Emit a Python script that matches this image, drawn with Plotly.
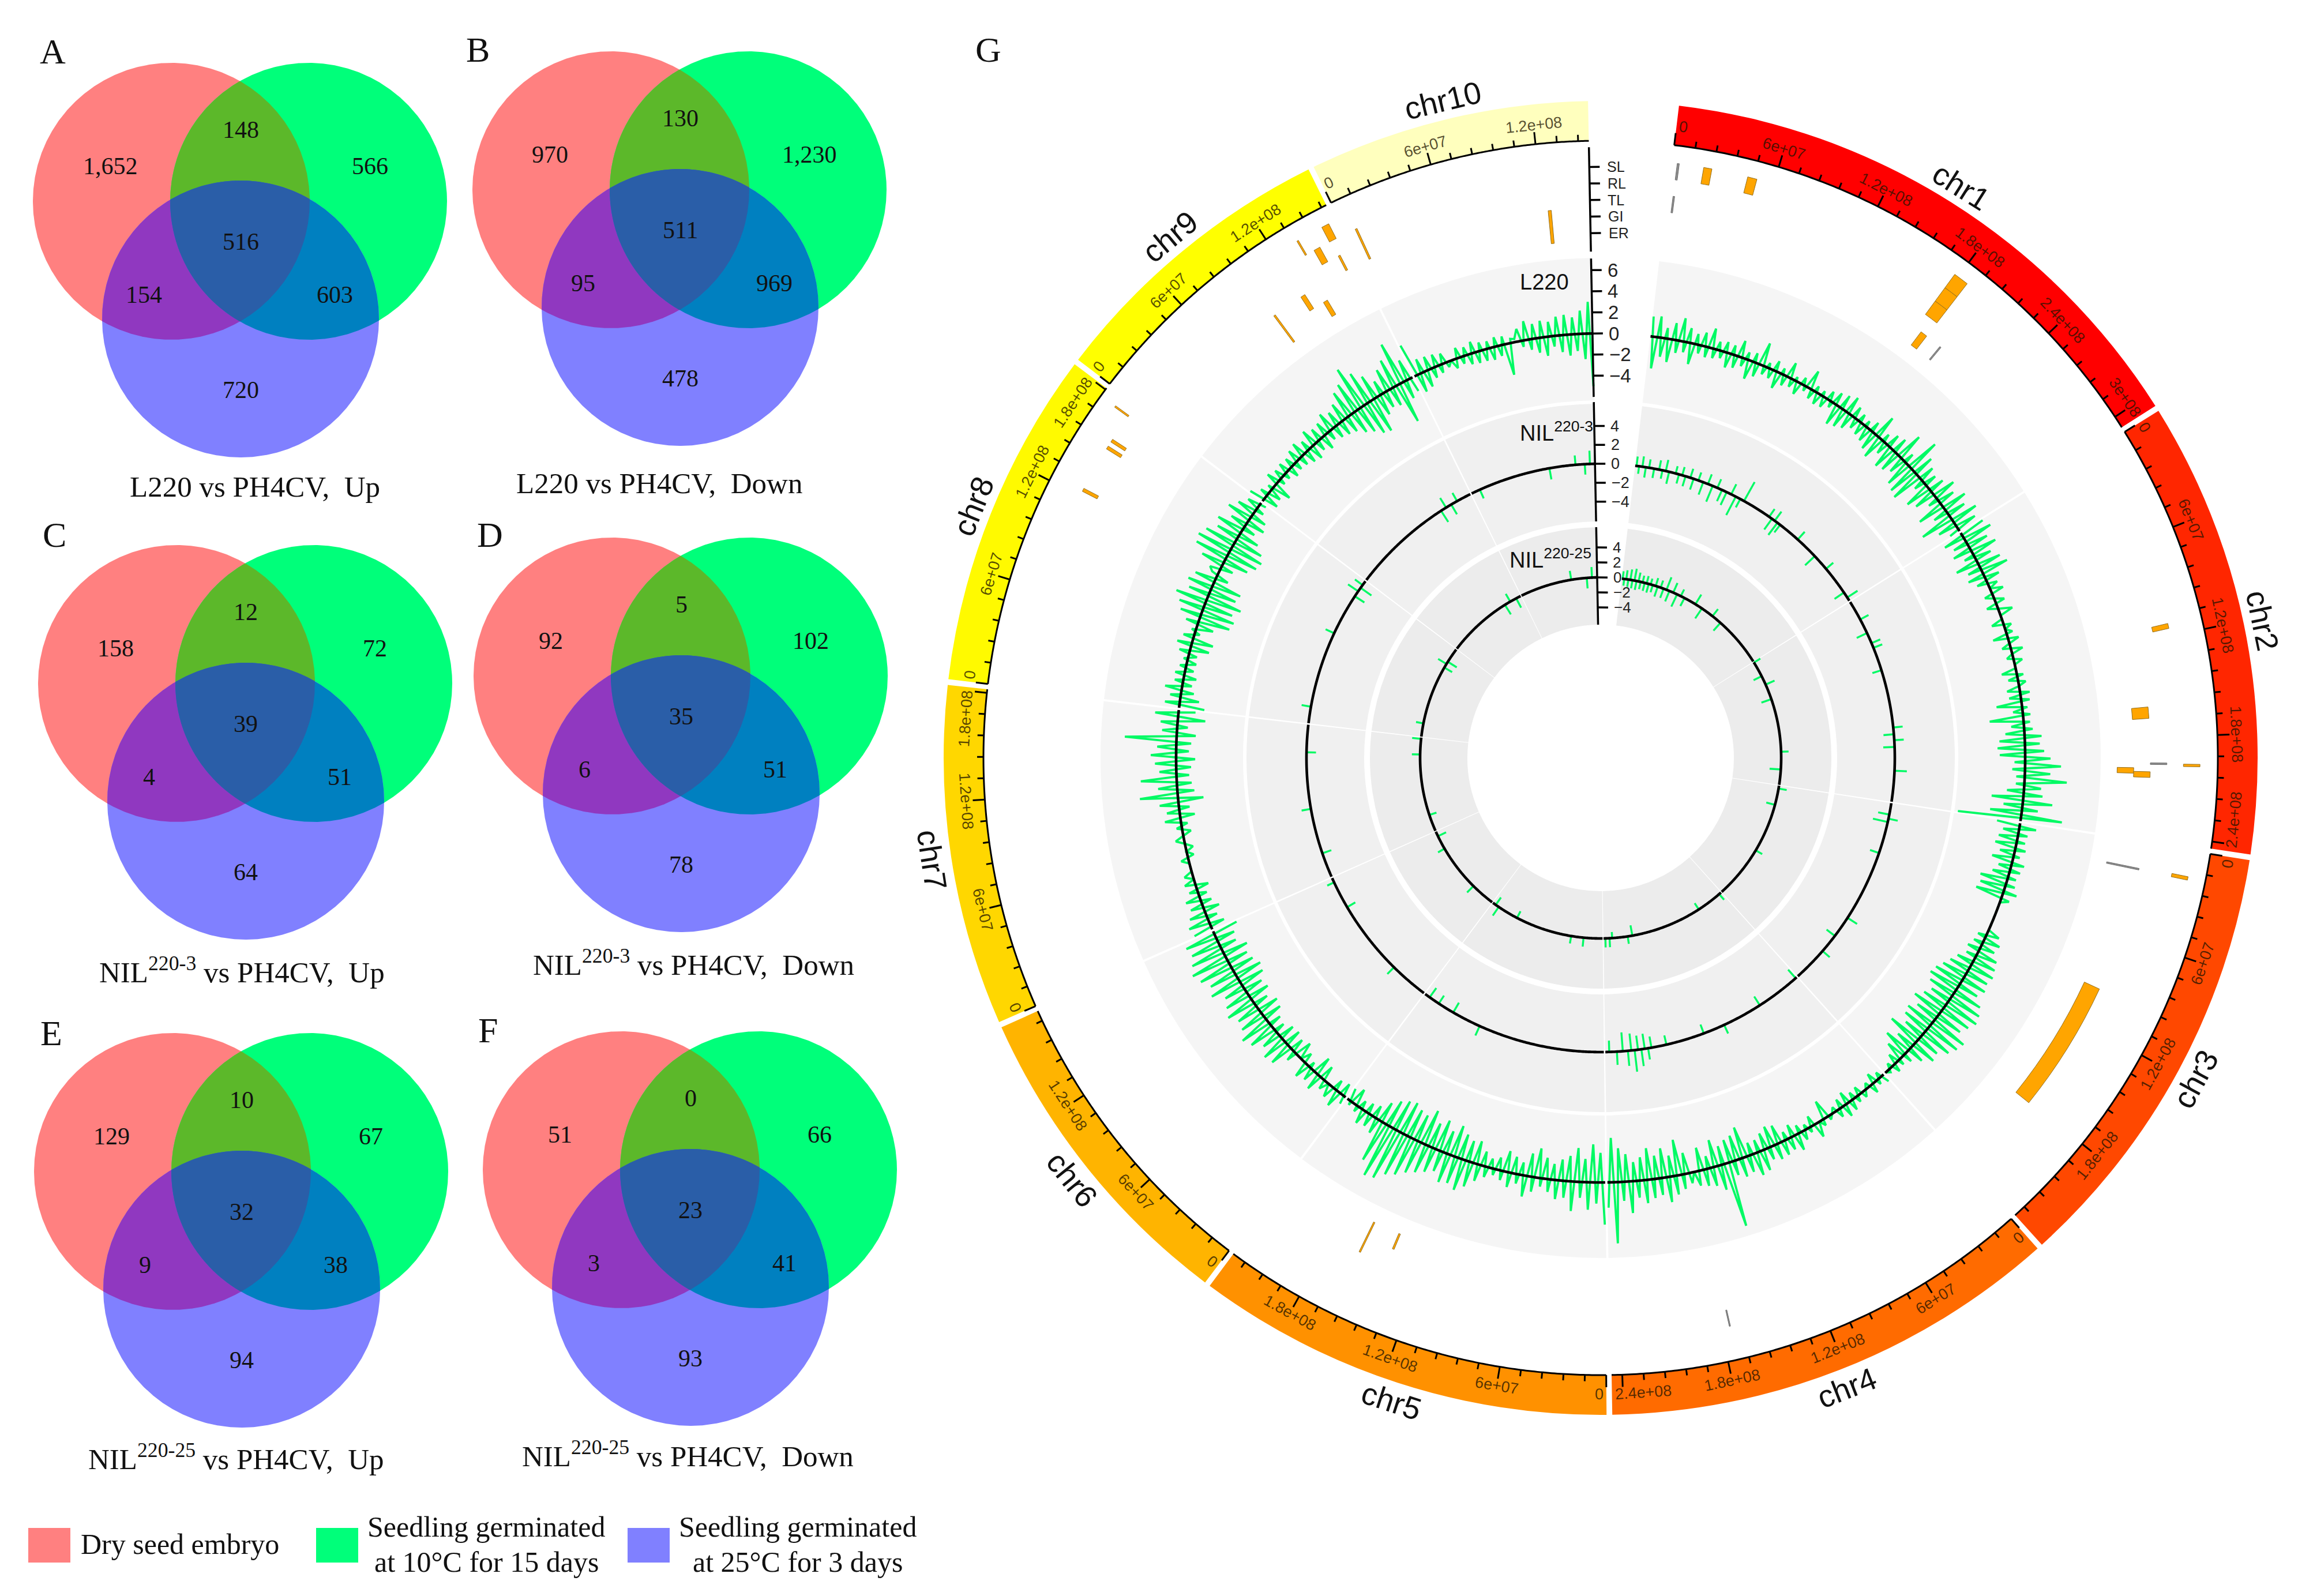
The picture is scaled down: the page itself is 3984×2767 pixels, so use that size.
import math
import numpy as np
import plotly.graph_objects as go

W, H = 3984, 2767
SERIF = "Liberation Serif"
SANS = "Liberation Sans"

# ---------- Venn data: only-R, R&G, only-G, all, R&B, G&B, only-B ----------
venn_a = [1652, 148, 566, 516, 154, 603, 720]
venn_b = [970, 130, 1230, 511, 95, 969, 478]
venn_c = [158, 12, 72, 39, 4, 51, 64]
venn_d = [92, 5, 102, 35, 6, 51, 78]
venn_e = [129, 10, 67, 32, 9, 38, 94]
venn_f = [51, 0, 66, 23, 3, 41, 93]
venn_titles = [
    "L220 vs PH4CV,\u00a0\u00a0Up", "L220 vs PH4CV,\u00a0\u00a0Down",
    "NIL<sup>220-3</sup> vs PH4CV,\u00a0\u00a0Up", "NIL<sup>220-3</sup> vs PH4CV,\u00a0\u00a0Down",
    "NIL<sup>220-25</sup> vs PH4CV,\u00a0\u00a0Up", "NIL<sup>220-25</sup> vs PH4CV,\u00a0\u00a0Down",
]
panel_letters = ["A", "B", "C", "D", "E", "F"]

# ---------- Circos data ----------
chrom_names = ["chr1", "chr2", "chr3", "chr4", "chr5", "chr6", "chr7", "chr8", "chr9", "chr10"]
chrom_length_mb = [307, 244, 235, 246, 224, 174, 182, 181, 159, 150]
chrom_colors = ["#FF0000", "#FF2600", "#FF4800", "#FF6B00", "#FF9100", "#FFB400",
                "#FFD700", "#FFFA00", "#FFFF00", "#FFFFBE"]
qtl_rows = ["ER", "GI", "TL", "RL", "SL"]

qtl_chrom = [10, 9, 10, 9, 9, 9, 9, 9, 9, 8, 8, 8, 8, 1, 1, 1, 1, 1, 1, 1, 1, 1,
             2, 2, 2, 2, 2, 2, 3, 3, 3, 5, 5, 4]
qtl_start = [123.5, 151, 6, 134.5, 140.5, 151.7, 118.8, 129.2, 98, 175, 152, 156.9, 123, 3, 3, 18.5, 44.5,
             177.6, 177.6, 177.6, 182, 197.5, 112.2, 160.7, 199.2, 201.6, 196, 196.6, 16, 15, 96.2, 159.8, 141, 174.3]
qtl_end = [125.5, 155.5, 7.2, 135.5, 144.5, 153, 121.8, 132.2, 99.2, 176, 154, 158.8, 125, 4.2, 4, 23.3, 50,
           186.6, 186.6, 186.6, 186.6, 198.5, 115.2, 167.9, 202.8, 205.2, 197, 198, 17, 17, 180.8, 160.8, 142.2, 175]
qtl_row_low = [0, 4, 2, 4, 3, 2, 1, 0, 0, 4, 3, 3, 3, 4, 2, 4, 4, 2, 3, 4, 0, 0, 3, 1, 0, 1, 2, 4, 0, 4, 1, 0, 0, 3]
qtl_row_high = [1, 4, 3, 4, 3, 2, 1, 0, 1, 4, 3, 3, 3, 4, 2, 4, 4, 2, 3, 4, 0, 0, 3, 1, 0, 1, 2, 4, 1, 4, 1, 1, 0, 3]
qtl_is_gray = [0, 0, 0, 0, 0, 0, 0, 0, 0, 0, 0, 0, 0, 1, 1, 0, 0, 0, 0, 0, 0, 1, 0, 0, 0, 0, 1, 0, 1, 0, 0, 0, 0, 1]

l220_chr1 = [1.9,-3.0,2.0,-1.8,1.0,-2.2,1.6,-1.2,2.2,-1.0,1.4,-2.0,1.0,-0.8,1.3,-1.0,1.9,-0.9,0.8,-0.7,1.0,-1.4,0.9,-1.2,1.6,-0.8,0.7,-1.8,0.9,-1.3,2.2,-0.8,0.5,-0.9,1.0,-1.6,0.6,-1.0,1.5,-0.8,0.4,-1.2,0.7,-0.5,1.8,-0.9,0.6,-1.1,0.5,-1.0,0.9,-0.6,1.2,-2.0,1.4,-1.8,1.7,-1.5,1.1,-1.0,0.8,-1.2,0.6,-1.4,1.0,-1.8,2.2,-2.2,0.8,-1.2,1.3,-2.2,1.5,-2.0,2.6,-1.6,1.0,-2.5,3.2,-2.8,2.0,-3.0,1.5,-1.0,1.2,-2.5,1.5,-2.0,2.2,-1.0,1.6,-2.6,2.4,-1.4,1.8,-3.2,2.6,-1.8,2.0,-1.0]
l220_chr2 = [2.4,-2.0,2.8,-1.4,2.0,-1.8,2.5,-1.0,1.6,-2.2,2.2,-1.3,2.6,-1.6,1.4,-1.0,0.9,0,1.2,-0.8,0,0.9,-1.0,0,1.3,0,0,-1.1,0.7,0,0.6,-1.4,1.0,0,-0.8,1.1,0,-0.6,0.8,0,0,-1.4,0.6,-0.9,0.7,0,-1.2,0.9,-1.1,0.8,-2.4,0.5,-0.9,0.7,-3.2,0.6,-1.2,0.8,-1.8,1.6,-2.4,1.4,-2.6,1.8,-2.4,2.4,-1.0,3.4,-1.2,2.4,-0.8,4.0,-0.8,1.6,-1.6,1.8,-3.0,2.8,-1.8,1.5,-3.0,3.9,-6.0]
l220_chr3 = [-2.2,1.6,-1.5,0.9,-1.8,0.8,-2.0,1.0,-1.4,0.6,-2.0,1.2,-1.2,1.0,-1.6,0.8,-2.6,0.9,-2.4,1.3,-2.6,0.8,0,0,0,0,0,0,0,0,0,1.2,-0.8,1.6,-0.9,1.4,-1.2,2.0,-1.0,2.2,-1.6,2.4,-2.0,2.2,-2.4,2.4,-2.8,2.0,-3.0,2.8,-2.6,3.2,-2.0,3.4,-2.4,3.0,-3.0,2.6,-2.2,3.6,-2.8,3.4,-2.6,3.0,-2.0,2.2,-3.2,2.4,-1.8,1.6,-2.6,0.9,-1.8,0.6,-1.0,0.8,-0.5,0.3,0]
l220_chr4 = [0.8,-0.6,0.5,-1.0,0.9,-0.5,0,0.6,-0.8,0.6,-0.7,1.0,-1.2,1.2,-0.9,0.8,-0.5,0,0.4,-1.8,0.6,0,1.4,-1.0,0.5,-0.5,0.9,-0.8,1.6,-1.2,1.2,-0.8,1.4,-1.8,1.5,-2.0,1.2,-1.6,2.0,-1.2,2.2,-1.2,1.6,-3.0,1.8,-2.4,1.4,-2.2,6.2,-1.8,2.4,-2.6,1.8,-1.2,1.6,-2.2,1.4,0,1.0,-2.0,1.4,-3.4,1.8,-2.0,2.4,-2.8,1.6,-2.2,1.8,-3.0,2.2,-2.2,1.6,-1.8,3.0,-2.6,1.8,-3.2,5.8,-4.2,2.4]
l220_chr5 = [4.0,-2.8,2.0,-3.6,2.6,-2.2,1.5,-3.2,2.8,-2.4,1.6,-2.0,1.8,-1.5,1.2,-2.0,0.8,-2.8,1.4,-2.2,2.0,-1.2,0.9,-1.6,1.4,-2.0,0.9,-1.2,0.6,-0.9,1.0,-1.4,1.6,-2.2,2.4,-2.0,3.0,-2.4,2.6,-3.0,2.8,-2.2,2.0,-3.0,2.4,-2.4,2.8,-3.4,3.2,-2.6,3.8,-2.8,4.2,-3.2,5.0,-3.0,5.2,-2.6,4.0,-2.0,1.5,-1.2,1.2,-1.0,1.4,-0.8,0.6,-1.6,0.4,-1.2]
l220_chr6 = [0.8,-1.2,1.6,-1.0,1.2,0,0.9,-1.4,1.6,-1.8,1.2,-0.6,1.5,-1.0,0,-1.6,1.0,-1.3,2.2,-1.6,2.4,-1.5,1.8,-1.0,2.6,-1.2,3.0,-1.8,2.4,-2.0,2.2,-1.4,2.8,-2.0,2.4,-1.8,2.0,-2.4,3.0,-2.6,2.6,-2.2,3.2,-2.0,3.6,-2.4,3.2,-1.6,2.8,-1.8,3.0,-2.4]
l220_chr7 = [1.8,-1.4,2.0,-1.0,1.6,-1.5,1.2,-1.0,1.4,-0.8,0.8,-1.2,1.0,0,0.8,0,0,0,0.7,-0.6,0,-0.7,0,0.8,0,-0.8,0.5,-0.6,1.5,-1.4,1.2,-1.0,1.8,-2.4,3.6,-1.6,1.8,-1.4,3.4,-1.2,1.6,-1.4,2.0,-1.8,2.4,-1.2,1.8,-1.4,4.9,-1.8,1.4,-1.0,1.6,-2.6,2.2,-1.6]
l220_chr8 = [-2.4,1.4,-1.8,1.0,-1.2,1.6,-0.9,0.8,-1.2,0.9,-0.8,0.6,-0.9,0.4,-0.8,1.0,-1.8,1.4,-2.0,1.0,-0.5,0.4,-1.6,1.2,-3.0,2.0,-3.2,2.4,-2.8,3.0,-3.4,2.0,-2.6,2.4,-2.8,2.0,-1.2,0.6,1.0,-1.2,2.2,-2.4,3.2,-3.0,3.4,-3.2,3.0,-2.8,2.2,-2.0,2.6,-1.2,1.6,-1.8,2.4,-1.5,1.8,-0.8,1.2,-0.6]
l220_chr9 = [1.5,-1.4,0.8,-1.2,0.5,-1.8,1.2,-0.6,0.9,-0.6,1.0,-1.0,0.9,-0.8,1.2,-0.9,1.4,-1.2,1.0,-1.4,1.6,-1.0,1.2,-1.4,1.3,-0.9,1.8,-1.2,1.4,-1.4,1.8,-1.6,2.6,-2.2,3.0,-2.6,4.2,-3.2,3.2,-3.4,2.4,-2.0,1.4,-1.6,2.2,-1.8,2.8,-3.9,4.1,-1.8,2.0,-1.4]
l220_chr10 = [3.2,-1.8,1.4,-1.6,1.3,-1.0,1.2,-0.8,1.0,-0.5,0,-0.9,1.0,-0.7,0.8,-1.0,1.1,-1.1,0.8,-1.1,0.7,-1.2,0.9,-1.0,0.8,-3.0,0.4,0.3,1.2,-0.6,1.8,-1.0,1.4,-1.4,1.6,-1.8,1.4,-1.0,1.8,-1.6,1.9,-2.0,1.6,-1.6,2.2,-2.4,3.0,-5.0]
l220_values = [l220_chr1, l220_chr2, l220_chr3, l220_chr4, l220_chr5, l220_chr6, l220_chr7, l220_chr8, l220_chr9, l220_chr10]

nil3_chrom = [1]*37 + [2]*10 + [3]*7 + [4]*16 + [5]*4 + [6]*3 + [7]*3 + [8]*6 + [9]*4 + [10]*5
nil3_mb = [1,4,8,12,16,22,28,32,36,40,48,52,56,60,66,70,76,82,88,94,100,106,112,118,124,130,135,170,174,178,182,186,213,241,261,296,303,
           23,41,54,88,157,165,172,180,208,60,
           13,18,22,145,171,194,60,
           1,54,102,128,174,192,196,200,204,208,212,216,220,226,233,242,
           150,185,205,218,
           46,136,169,
           29,83,150,
           19,110,160,167,172,176,
           120,127,134,142,
           10,96,127,138,144]
nil3_value = [1.0,-0.8,1.1,-1.1,0.9,-1.0,1.0,-0.9,1.2,-1.3,0.8,-1.0,0.9,-1.1,1.0,-1.2,0.9,-1.4,1.1,-1.8,1.0,-1.3,-1.5,1.2,-2.2,-1.0,2.3,1.0,-1.4,1.2,-1.6,-1.0,1.1,-1.4,1.0,-1.2,1.3,
              1.0,-1.2,1.0,-1.0,1.0,-1.1,1.0,-1.2,1.3,1.0,
              -1.2,1.0,-1.6,1.2,-1.1,1.0,-1.0,
              -1.2,-1.1,1.0,-1.0,-1.0,-1.2,1.2,-1.6,1.8,-1.5,2.3,-1.8,1.6,-2.0,1.4,-1.2,
              1.1,-1.2,-1.0,-1.2,
              1.0,-1.0,0.8,
              -1.0,1.0,-1.0,
              1.0,1.0,-1.2,1.3,-1.4,1.0,
              -1.4,1.2,-1.2,1.0,
              -1.0,-1.2,1.0,-1.1,1.4]

nil25_chrom = [1]*30 + [2]*6 + [3]*3 + [4]*7 + [5]*5 + [6]*3 + [7]*3 + [8]*4 + [9]*3 + [10]*3
nil25_mb = [1,4,8,12,16,20,24,28,32,36,40,44,48,52,56,60,66,70,76,82,88,94,102,110,118,126,150,165,190,210,
            0,30,48,78,181,215,
            5,37,132,
            4,53,191,200,235,243,230,
            36,60,170,211,218,
            47,138,165,
            32,150,180,
            25,140,148,153,
            125,137,150,
            100,130,140]
nil25_value = [1.0,-0.9,1.2,-1.0,1.4,-1.1,1.6,-1.2,1.2,-1.0,0.9,-1.1,1.0,-1.2,0.8,-1.0,1.1,-1.4,1.0,-1.3,1.8,-1.5,1.4,-1.8,1.0,-1.2,1.5,-1.6,1.2,-1.4,
               1.0,-1.2,1.3,-1.4,1.0,-1.5,
               1.1,-1.2,1.0,
               1.0,-1.0,-1.4,1.0,1.2,1.2,-0.8,
               1.2,1.0,-1.0,1.4,-1.2,
               1.2,1.0,-1.2,
               -1.0,1.1,1.2,
               1.0,-1.2,1.3,-1.4,
               -1.5,1.2,-1.4,
               1.2,-1.4,1.4]

axis_rows = [("SL", 4), ("RL", 3), ("TL", 2), ("GI", 1), ("ER", 0)]
l220_ticks = [6, 4, 2, 0, -2, -4]
nil_ticks = [4, 2, 0, -2, -4]

# ---------- Layout constants ----------
cx, cy = 2775, 1314
RMAX = 1200
START_DEG, END_DEG, GAP = 6.85, 358.9, 0.5
DEG_PER_MB = (END_DEG - START_DEG - GAP * 9) / sum(chrom_length_mb)
chrom_start = []
a = START_DEG
for L in chrom_length_mb:
    chrom_start.append(a)
    a += L * DEG_PER_MB + GAP


def theta(ch, mb):
    return chrom_start[ch - 1] + mb * DEG_PER_MB


def pxy(t, r):
    return cx + r * math.sin(math.radians(t)), cy - r * math.cos(math.radians(t))


R_ring, R_band_out = 1070, 1139
tracks = [(620, 867, 736, 18.3, "#F5F5F5"), (410, 614, 510, 16.4, "#F0F0F0"), (231, 400, 313, 13.0, "#ECECEC")]
ROW0, ROWH = 910, 28.7

fig = go.Figure()
anns = []


def text(x, y, s, size, font=SERIF, color="#111111", angle=0, xanchor="center"):
    anns.append(dict(x=x, y=y, xref="x", yref="y", text=s, showarrow=False, textangle=angle, xanchor=xanchor,
                     yanchor="middle", font=dict(family=font, size=size, color=color)))


# ---------- Venn diagrams ----------
VRX, VRY = 240, 240
off_r, off_g, off_b = (-120, -204), (118, -204), (0, 0)
venn_centers = [(417, 553), (1179, 533), (426, 1389), (1181, 1376), (419, 2235), (1197, 2232)]
venn_sets = [venn_a, venn_b, venn_c, venn_d, venn_e, venn_f]
num_off = [(-226, -265), (0, -328), (224, -265), (0, -134), (-168, -42), (163, -42), (0, 123)]
title_pos = [(442, 844), (1143, 838), (419, 1682), (1202, 1669), (409, 2526), (1192, 2521)]
letter_pos = [(91, 89), (828, 86), (94, 927), (849, 927), (89, 1791), (846, 1786)]


def region(centers, n=720):
    c0 = np.mean(centers, axis=0)
    ang = np.linspace(0, 2 * np.pi, n, endpoint=True)
    dx, dy = np.cos(ang) / VRX, np.sin(ang) / VRY
    best = np.full(n, np.inf)
    for c in centers:
        ox, oy = (c0[0] - c[0]) / VRX, (c0[1] - c[1]) / VRY
        A = dx**2 + dy**2
        B = 2 * (ox * dx + oy * dy)
        C = ox**2 + oy**2 - 1
        t = (-B + np.sqrt(B**2 - 4 * A * C)) / (2 * A)
        best = np.minimum(best, t)
    return c0[0] + best * np.cos(ang), c0[1] + best * np.sin(ang)


for (vx, vy), vals, ttl, tp, lp, letter in zip(venn_centers, venn_sets, venn_titles, title_pos, letter_pos, panel_letters):
    r = (vx + off_r[0], vy + off_r[1])
    g = (vx + off_g[0], vy + off_g[1])
    b = (vx, vy)
    for cs, col in [([r], "#FF8080"), ([g], "#00FF7A"), ([b], "#8080FF"), ([r, g], "#5CB82A"),
                    ([r, b], "#9038C0"), ([g, b], "#0080C0"), ([r, g, b], "#2A5EA8")]:
        X, Y = region(cs)
        fig.add_trace(go.Scatter(x=X, y=Y, mode="lines", fill="toself", fillcolor=col, line=dict(width=0),
                                 hoverinfo="skip", showlegend=False))
    for v, o in zip(vals, num_off):
        text(vx + o[0], vy + o[1], f"{v:,}", 42)
    text(tp[0], tp[1], ttl, 51)
    text(lp[0], lp[1], letter, 62)

# Legend
for x0, col in [(49, "#FF8080"), (548, "#00FF7A"), (1088, "#8080FF")]:
    fig.add_trace(go.Scatter(x=[x0, x0 + 73, x0 + 73, x0, x0], y=[2649, 2649, 2709, 2709, 2649], mode="lines",
                             fill="toself", fillcolor=col, line=dict(width=0), hoverinfo="skip", showlegend=False))
text(312, 2677, "Dry seed embryo", 50)
text(843, 2647, "Seedling germinated", 50)
text(843, 2708, "at 10°C for 15 days", 50)
text(1383, 2647, "Seedling germinated", 50)
text(1383, 2708, "at 25°C for 3 days", 50)
text(1713, 86, "G", 62)

# ---------- Circos ----------
mids = [s + L * DEG_PER_MB / 2 for s, L in zip(chrom_start, chrom_length_mb)]
wids = [L * DEG_PER_MB for L in chrom_length_mb]

for lo, hi, _, _, col in tracks:
    fig.add_trace(go.Barpolar(theta=mids, width=[w + 0.25 for w in wids], base=[lo] * 10, r=[hi - lo] * 10,
                              marker=dict(color=col, line=dict(width=0)), hoverinfo="skip", showlegend=False))

fig.add_trace(go.Barpolar(theta=mids, width=wids, base=[R_ring] * 10, r=[R_band_out - R_ring] * 10,
                          marker=dict(color=chrom_colors, line=dict(width=0)), hoverinfo="skip", showlegend=False))

# QTL rectangles
q_t, q_w, q_b, q_r, q_c, q_l = [], [], [], [], [], []
for c, s, e, lo, hi, gray in zip(qtl_chrom, qtl_start, qtl_end, qtl_row_low, qtl_row_high, qtl_is_gray):
    q_t.append((theta(c, s) + theta(c, e)) / 2)
    q_w.append(theta(c, e) - theta(c, s))
    q_b.append(ROW0 + (lo - 0.5) * ROWH)
    q_r.append((hi - lo + 1) * ROWH)
    q_c.append("#8C8C8C" if gray else "#FFA500")
    q_l.append("#6E6E6E" if gray else "#94701E")
fig.add_trace(go.Barpolar(theta=q_t, width=q_w, base=q_b, r=q_r,
                          marker=dict(color=q_c, line=dict(color=q_l, width=1)), hoverinfo="skip", showlegend=False))

GREEN = "#00FA64"
# L220 track as one zigzag line per chromosome
t1_R0, t1_S = tracks[0][2], tracks[0][3]
lt, lr = [], []
for i, vals in enumerate(l220_values):
    tt = np.linspace(0, chrom_length_mb[i], len(vals))
    for m, v in zip(tt, vals):
        lt.append(theta(i + 1, m))
        lr.append(t1_R0 + v * t1_S)
    lt.append(None)
    lr.append(None)
fig.add_trace(go.Scatterpolar(theta=lt, r=lr, mode="lines", line=dict(color=GREEN, width=3.8), hoverinfo="skip", showlegend=False))


def spikes(chs, mbs, vals, R0, S):
    st, sr = [], []
    for c, m, v in zip(chs, mbs, vals):
        t = theta(c, m)
        st += [t, t, None]
        sr += [R0, R0 + v * S, None]
    return st, sr


for chs, mbs, vals, tr in [(nil3_chrom, nil3_mb, nil3_value, tracks[1]), (nil25_chrom, nil25_mb, nil25_value, tracks[2])]:
    st, sr = spikes(chs, mbs, vals, tr[2], tr[3])
    fig.add_trace(go.Scatterpolar(theta=st, r=sr, mode="lines", line=dict(color=GREEN, width=3.4), hoverinfo="skip", showlegend=False))

# Zero lines + ideogram inner line
zt, zr = [], []
for tr in tracks:
    for i in range(10):
        arc = np.linspace(chrom_start[i] - 0.1, chrom_start[i] + wids[i] + 0.1, 140)
        zt += list(arc) + [None]
        zr += [tr[2]] * len(arc) + [None]
fig.add_trace(go.Scatterpolar(theta=zt, r=zr, mode="lines", line=dict(color="black", width=4.6), hoverinfo="skip", showlegend=False))

rt, rr = [], []
for i in range(10):
    arc = np.linspace(chrom_start[i], chrom_start[i] + wids[i], 140)
    rt += list(arc) + [None]
    rr += [R_ring] * len(arc) + [None]
    for mb in range(0, chrom_length_mb[i] + 1, 12):
        t = theta(i + 1, mb)
        major = mb % 60 == 0
        rt += [t, t, None]
        rr += [R_ring, R_ring + (21 if major else 11), None]
        if major:
            label = "0" if mb == 0 else ("6e+07" if mb == 60 else f"{mb / 100:.1f}e+08" if mb % 100 else f"{mb // 100}e+08")
            half = math.degrees((len(label) * 14.3) / 2 / 1103) + 0.25
            tl = min(max(t, chrom_start[i] + half), chrom_start[i] + wids[i] - half)
            x, y = pxy(tl, 1103)
            rot = tl - 180 if 90 < tl < 270 else (tl if tl <= 90 else tl - 360)
            text(x, y, label, 27, SANS, "rgba(30,20,0,0.75)", rot)
fig.add_trace(go.Scatterpolar(theta=rt, r=rr, mode="lines", line=dict(color="black", width=3), hoverinfo="skip", showlegend=False))

for i, name in enumerate(chrom_names):
    t = mids[i]
    x, y = pxy(t, 1172)
    rot = t - 180 if 90 < t < 270 else (t if t <= 90 else t - 360)
    text(x, y, name, 54, SANS, "#111111", rot)

# Radial axes
AX = END_DEG
at, ar = [], []


def axis(lo, hi, ticks_R):
    global at, ar
    at += [AX, AX, None]
    ar += [lo, hi, None]
    for R in ticks_R:
        at += [AX, AX + math.degrees(18 / R), None]
        ar += [R, R, None]


axis(878, 1059, [ROW0 + ROWH * v for _, v in axis_rows])
axis(626, 866, [tracks[0][2] + tracks[0][3] * v for v in l220_ticks])
axis(410, 617, [tracks[1][2] + tracks[1][3] * v for v in nil_ticks])
axis(231, 400, [tracks[2][2] + tracks[2][3] * v for v in nil_ticks])
fig.add_trace(go.Scatterpolar(theta=at, r=ar, mode="lines", line=dict(color="black", width=3.5), hoverinfo="skip", showlegend=False))


def fmt(v):
    return f"\u2212{-v}" if v < 0 else str(v)


for name, v in axis_rows:
    R = ROW0 + ROWH * v
    x, y = pxy(AX, R)
    text(x + 29, y, name, 25, SANS, "#222222", 0, "left")
for tr, ticks, size in [(tracks[0], l220_ticks, 33), (tracks[1], nil_ticks, 27), (tracks[2], nil_ticks, 26)]:
    for v in ticks:
        R = tr[2] + tr[3] * v
        x, y = pxy(AX, R)
        text(x + 26, y, fmt(v), size, SANS, "#222222", 0, "left")

text(2677, 489, "L220", 38, SANS, "#111111")
text(2698, 748, "NIL<sup>220-3</sup>", 38, SANS, "#111111")
text(2688, 968, "NIL<sup>220-25</sup>", 38, SANS, "#111111")

fig.update_layout(
    width=W, height=H, margin=dict(l=0, r=0, t=0, b=0), autosize=False,
    paper_bgcolor="white", plot_bgcolor="white", showlegend=False, annotations=anns,
    xaxis=dict(range=[0, W], visible=False, domain=[0, 1]),
    yaxis=dict(range=[H, 0], visible=False, domain=[0, 1]),
    polar=dict(
        domain=dict(x=[(cx - RMAX) / W, (cx + RMAX) / W], y=[1 - (cy + RMAX) / H, 1 - (cy - RMAX) / H]),
        bgcolor="rgba(0,0,0,0)", barmode="overlay",
        radialaxis=dict(range=[0, RMAX], visible=False, showgrid=False, showticklabels=False, ticks=""),
        angularaxis=dict(rotation=90, direction="clockwise", visible=False, showgrid=False, showticklabels=False, ticks=""),
    ),
)

fig.write_html("out.html", config=dict(displayModeBar=False),
               post_script="document.body.style.margin='0';document.body.style.overflow='hidden';")
